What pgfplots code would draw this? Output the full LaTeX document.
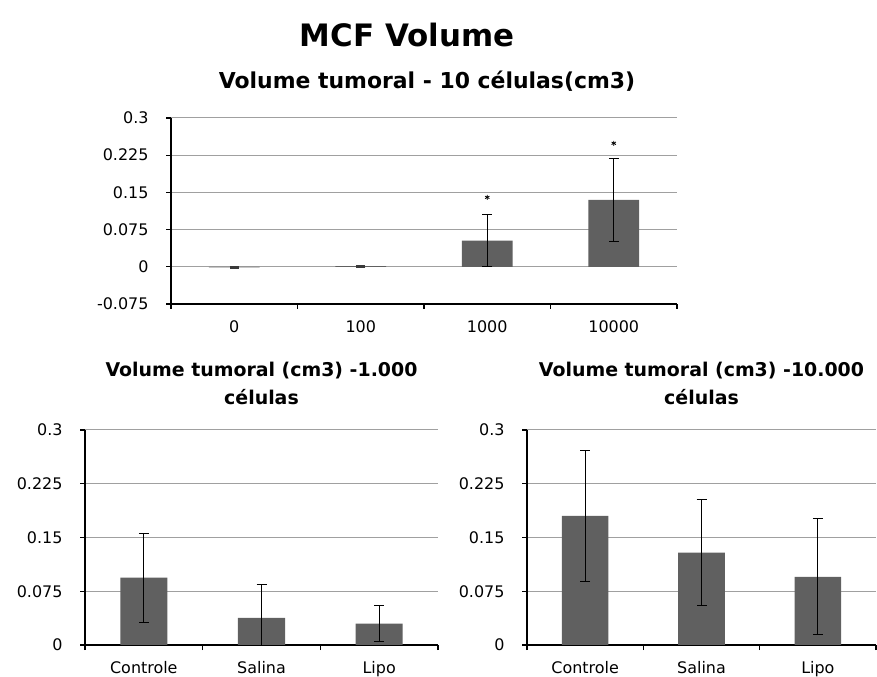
\documentclass[border=0pt]{standalone}
\usepackage{pgfplots}
\pgfplotsset{compat=1.18}
\usepackage{fontspec}
\setmainfont{DejaVu Sans}
\definecolor{barg}{RGB}{96,96,96}
\definecolor{gridg}{RGB}{160,160,160}
\pgfplotsset{
  mystyle/.style={
    scale only axis, anchor=south west,
    axis lines=left, axis line style={-, black, line width=1.5bp},
    ymajorgrids, major grid style={gridg, line width=1bp},
    tick align=outside, major tick length=5bp, minor tick length=5bp,
    major x tick style={draw=none},
    minor x tick style={black, line width=1.2bp},
    major y tick style={black, line width=1.2bp},
    ticklabel style={font=\fontsize{16}{19}\selectfont},
    /pgf/number format/assume math mode=true,
    yticklabel style={xshift=-14bp},
    xticklabel style={yshift=-8bp},
    title style={font=\fontsize{19}{28}\selectfont\bfseries, align=center, anchor=center, at={(0.5,1)}},
  },
  barstyle/.style={ybar, bar width=0.4, fill=barg, draw=none,
    error bars/.cd, y dir=both, y explicit,
    error bar style={black, line width=1bp},
    error mark options={rotate=90, black, mark size=5bp, line width=1bp}},
  tinystyle/.style={ybar, bar width=0.4, fill=barg, draw=none,
    error bars/.cd, y dir=both, y explicit,
    error bar style={barg!60!black, line width=1.5bp},
    error mark options={rotate=90, barg!60!black, mark size=4.5bp, line width=1.5bp}},
}
\begin{document}
\begin{tikzpicture}
\useasboundingbox (0,0) rectangle (877bp,677bp);
\node[font=\fontsize{31}{36}\selectfont\bfseries] at (407bp,642bp) {MCF Volume};
% top chart
\begin{axis}[mystyle,
  at={(171bp,373bp)}, width=506bp, height=186bp,
  xmin=-0.5, xmax=3.5, ymin=-0.075, ymax=0.3,
  xtick={0,1,2,3}, xticklabels={0,100,1000,10000},
  minor xtick={-0.5,0.5,1.5,2.5,3.5},
  ytick={-0.075,0,0.075,0.15,0.225,0.3},
  yticklabels={-0.075,0,0.075,0.15,0.225,0.3},
  title={Volume tumoral - 10 células(cm3)},
  title style={font=\fontsize{22}{26}\selectfont\bfseries, yshift=31bp, xshift=3bp},
]
\addplot[tinystyle] coordinates {
  (0,-0.0012) +- (0,0.0012)
  (1,0.0015) +- (0,0.0015)
};
\addplot[barstyle] coordinates {
  (2,0.053) +- (0,0.052)
  (3,0.135) +- (0,0.084)
};
\addplot[only marks, mark=asterisk, mark size=2.5bp, black, line width=0.8bp] coordinates {(2,0.140) (3,0.249)};
\end{axis}
% bottom left
\begin{axis}[mystyle,
  at={(85bp,32bp)}, width=353bp, height=215bp,
  xmin=-0.5, xmax=2.5, ymin=0, ymax=0.3,
  xtick={0,1,2}, xticklabels={Controle,Salina,Lipo},
  minor xtick={-0.5,0.5,1.5,2.5},
  ytick={0,0.075,0.15,0.225,0.3},
  yticklabels={0,0.075,0.15,0.225,0.3},
  title={Volume tumoral (cm3) -1.000\\células},
  title style={yshift=41bp},
]
\addplot[barstyle] coordinates {
  (0,0.094) +- (0,0.062)
  (1,0.038) +- (0,0.047)
  (2,0.030) +- (0,0.0245)
};
\end{axis}
% bottom right
\begin{axis}[mystyle,
  at={(527bp,32bp)}, width=349bp, height=215bp,
  xmin=-0.5, xmax=2.5, ymin=0, ymax=0.3,
  xtick={0,1,2}, xticklabels={Controle,Salina,Lipo},
  minor xtick={-0.5,0.5,1.5,2.5},
  ytick={0,0.075,0.15,0.225,0.3},
  yticklabels={0,0.075,0.15,0.225,0.3},
  title={Volume tumoral (cm3) -10.000\\células},
  title style={yshift=41bp},
]
\addplot[barstyle] coordinates {
  (0,0.180) +- (0,0.0915)
  (1,0.129) +- (0,0.074)
  (2,0.095) +- (0,0.081)
};
\end{axis}
\end{tikzpicture}
\end{document}
